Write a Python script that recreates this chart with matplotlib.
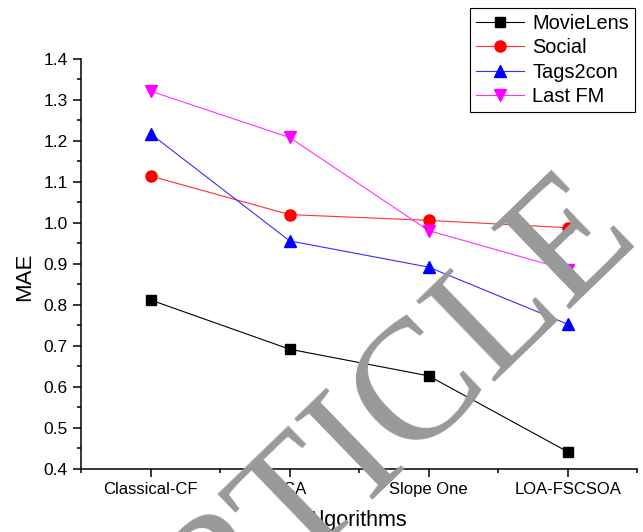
import numpy as np
import matplotlib.pyplot as plt
from matplotlib.ticker import MultipleLocator, FormatStrFormatter

algorithms = ['Classical-CF', 'PCA', 'Slope One', 'LOA-FSCSOA']
movielens = [0.812, 0.692, 0.627, 0.442]
social = [1.114, 1.020, 1.006, 0.988]
tags2con = [1.217, 0.956, 0.892, 0.753]
lastfm = [1.321, 1.208, 0.981, 0.885]

plt.rcParams['font.family'] = ['Liberation Sans', 'DejaVu Sans']

fig = plt.figure(figsize=(6.43, 5.32), dpi=100)
ax = fig.add_axes([0.126, 0.1184, 0.865, 0.7713])

x = np.arange(len(algorithms))
ax.plot(x, movielens, color='black', lw=0.8, marker='s', ms=7.5, label='MovieLens')
ax.plot(x, social, color='#ff3030', lw=0.8, marker='o', ms=8, mfc='red', mec='red', label='Social')
ax.plot(x, tags2con, color='#3030ff', lw=0.8, marker='^', ms=9, mfc='blue', mec='blue', label='Tags2con')
ax.plot(x, lastfm, color='#ff30ff', lw=0.8, marker='v', ms=9, mfc='magenta', mec='magenta', label='Last FM')

ax.set_xlim(-0.5, 3.5)
ax.set_ylim(0.4, 1.4)
ax.set_xticks(x)
ax.set_xticklabels(algorithms, fontsize=12)
ax.xaxis.set_minor_locator(MultipleLocator(0.5))
ax.yaxis.set_major_locator(MultipleLocator(0.1))
ax.yaxis.set_minor_locator(MultipleLocator(0.05))
ax.yaxis.set_major_formatter(FormatStrFormatter('%.1f'))
ax.tick_params(axis='y', labelsize=12.5)
ax.tick_params(which='major', length=6, width=1.1)
ax.tick_params(which='minor', length=3, width=1.1)
ax.spines['top'].set_visible(False)
ax.spines['right'].set_visible(False)
ax.spines['left'].set_linewidth(1.1)
ax.spines['bottom'].set_linewidth(1.1)
ax.set_xlabel('Algorithms', fontsize=15.5)
ax.set_ylabel('MAE', fontsize=16)
ax.xaxis.set_label_coords(0.495, -0.100)
ax.yaxis.set_label_coords(-0.082, 0.468)

leg = ax.legend(loc='upper right', bbox_to_anchor=(0.9876, 0.985), bbox_transform=fig.transFigure,
                fontsize=14.4, fancybox=False, edgecolor='black', framealpha=1, borderaxespad=0,
                handlelength=2.4, labelspacing=0.27, borderpad=0.3, handletextpad=0.4)
leg.get_frame().set_linewidth(0.8)

# watermark
fig.text(0.2022, -0.3778, 'ARTICLE', rotation=44, rotation_mode='anchor', ha='left', va='baseline',
         fontsize=123, family='Liberation Serif', color='#999999', zorder=10)

fig.savefig('out.png', dpi=100)
